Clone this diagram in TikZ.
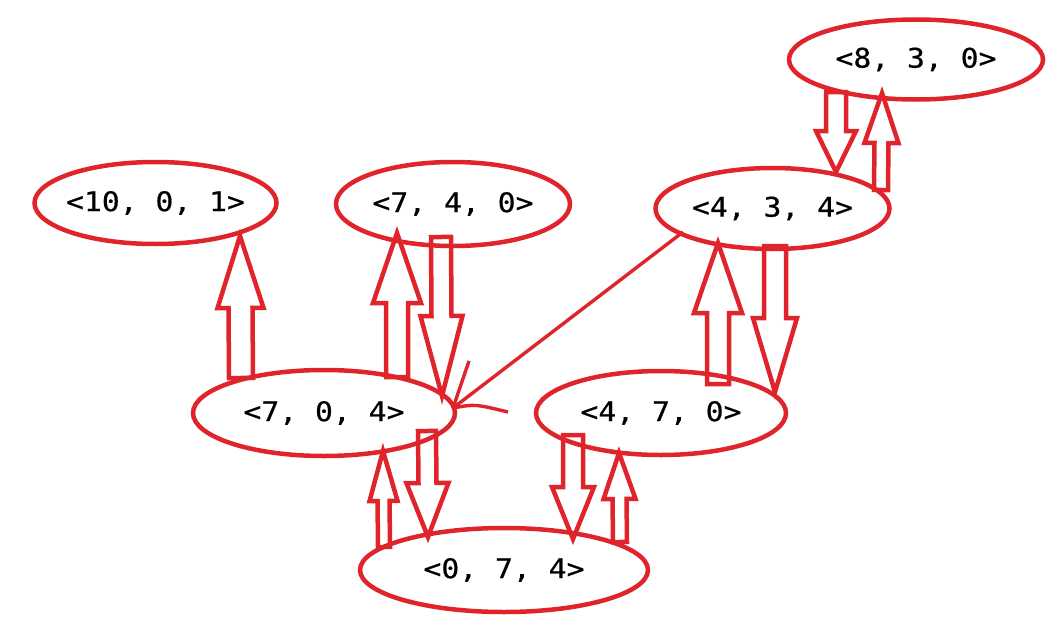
\documentclass[tikz,border=0pt]{standalone}
\usepackage{fontspec}
\newfontfamily\labfont[FakeStretch=1.1,FakeBold=0.6]{DejaVu Sans Mono}
\usetikzlibrary{shapes.geometric,calc}
\definecolor{pred}{RGB}{224,36,44}
\tikzset{
  ell/.style={draw=pred, line width=4.5pt, ellipse, inner sep=0pt, font=\labfont\fontsize{27}{32}\selectfont, text=black},
  blk/.style={draw=pred, line width=4.5pt, line join=miter, miter limit=20},
  thin/.style={draw=pred, line width=3.4pt}
}
% block arrow: #1 tail, #2 tip, #3 shaft half width, #4 head half width, #5 head length
\newcommand\barrow[5]{%
  \coordinate (ba) at ($(#2)!#5!(#1)$);
  \draw[blk] ($(#1)!#3!90:(#2)$) -- ($(ba)!#3!90:(#2)$) -- ($(ba)!#4!90:(#2)$) -- (#2)
    -- ($(ba)!#4!-90:(#2)$) -- ($(ba)!#3!-90:(#2)$) -- ($(#1)!#3!-90:(#2)$) -- cycle;}
\begin{document}
\begin{tikzpicture}[x=1pt,y=-1pt]
\useasboundingbox (0,0) rectangle (1055,642);
\node[ell, minimum width=242pt, minimum height=82pt] (a) at (155.5,203) {\makebox[0pt]{<10, 0, 1>}};
\node[ell, minimum width=234pt, minimum height=84pt] (b) at (453,204) {\makebox[0pt]{<7, 4, 0>}};
\node[ell, minimum width=254pt, minimum height=80pt] (c) at (916,59.5) {\makebox[0pt]{<8, 3, 0>}};
\node[ell, minimum width=234pt, minimum height=81pt] (d) at (772.5,208.5) {\makebox[0pt]{<4, 3, 4>}};
\node[ell, minimum width=262pt, minimum height=86pt] (e) at (324,413) {\makebox[0pt]{<7, 0, 4>}};
\node[ell, minimum width=250pt, minimum height=84pt] (f) at (661,413) {\makebox[0pt]{<4, 7, 0>}};
\node[ell, minimum width=288pt, minimum height=84pt] (g) at (504,570) {\makebox[0pt]{<0, 7, 4>}};
% arrow end points
\coordinate (e1t) at (241,378); \coordinate (a1h) at (240,236);
\coordinate (e2t) at (397,377); \coordinate (b2h) at (397,233);
\coordinate (b3t) at (441,237); \coordinate (e3h) at (442,396);
\coordinate (g4t) at (384,547); \coordinate (e4h) at (383,451);
\coordinate (e5t) at (427,431); \coordinate (g5h) at (428,537);
\coordinate (f6t) at (573,435); \coordinate (g6h) at (573,539);
\coordinate (g7t) at (620,542); \coordinate (f7h) at (619,453);
\coordinate (f8t) at (718,384); \coordinate (d8h) at (718,243);
\coordinate (d9t) at (775,246); \coordinate (f9h) at (775,392);
\coordinate (c10t) at (836,92); \coordinate (d10h) at (836,172);
\coordinate (d11t) at (881,190); \coordinate (c11h) at (882,93);
\barrow{e1t}{a1h}{12pt}{23pt}{72pt}
\barrow{e2t}{b2h}{11pt}{24pt}{70pt}
\barrow{b3t}{e3h}{10pt}{21pt}{80pt}
\barrow{g4t}{e4h}{6pt}{14pt}{50pt}
\barrow{e5t}{g5h}{9pt}{21pt}{54pt}
\barrow{f6t}{g6h}{10pt}{21pt}{52pt}
\barrow{g7t}{f7h}{7pt}{16pt}{46pt}
\barrow{f8t}{d8h}{11pt}{24pt}{70pt}
\barrow{d9t}{f9h}{11pt}{22pt}{74pt}
\barrow{c10t}{d10h}{10pt}{20pt}{41pt}
\barrow{d11t}{c11h}{7pt}{17pt}{50pt}
% thin hand-drawn arrow
\coordinate (ds) at (683,232);
\coordinate (ep) at (453,408);
\coordinate (w1) at (469,361);
\coordinate (w2) at (508,412);
\draw[thin] (ds) -- (ep);
\draw[thin] (ep) -- (w1);
\draw[thin] (ep) .. controls (475,404) .. (w2);
\end{tikzpicture}
\end{document}
